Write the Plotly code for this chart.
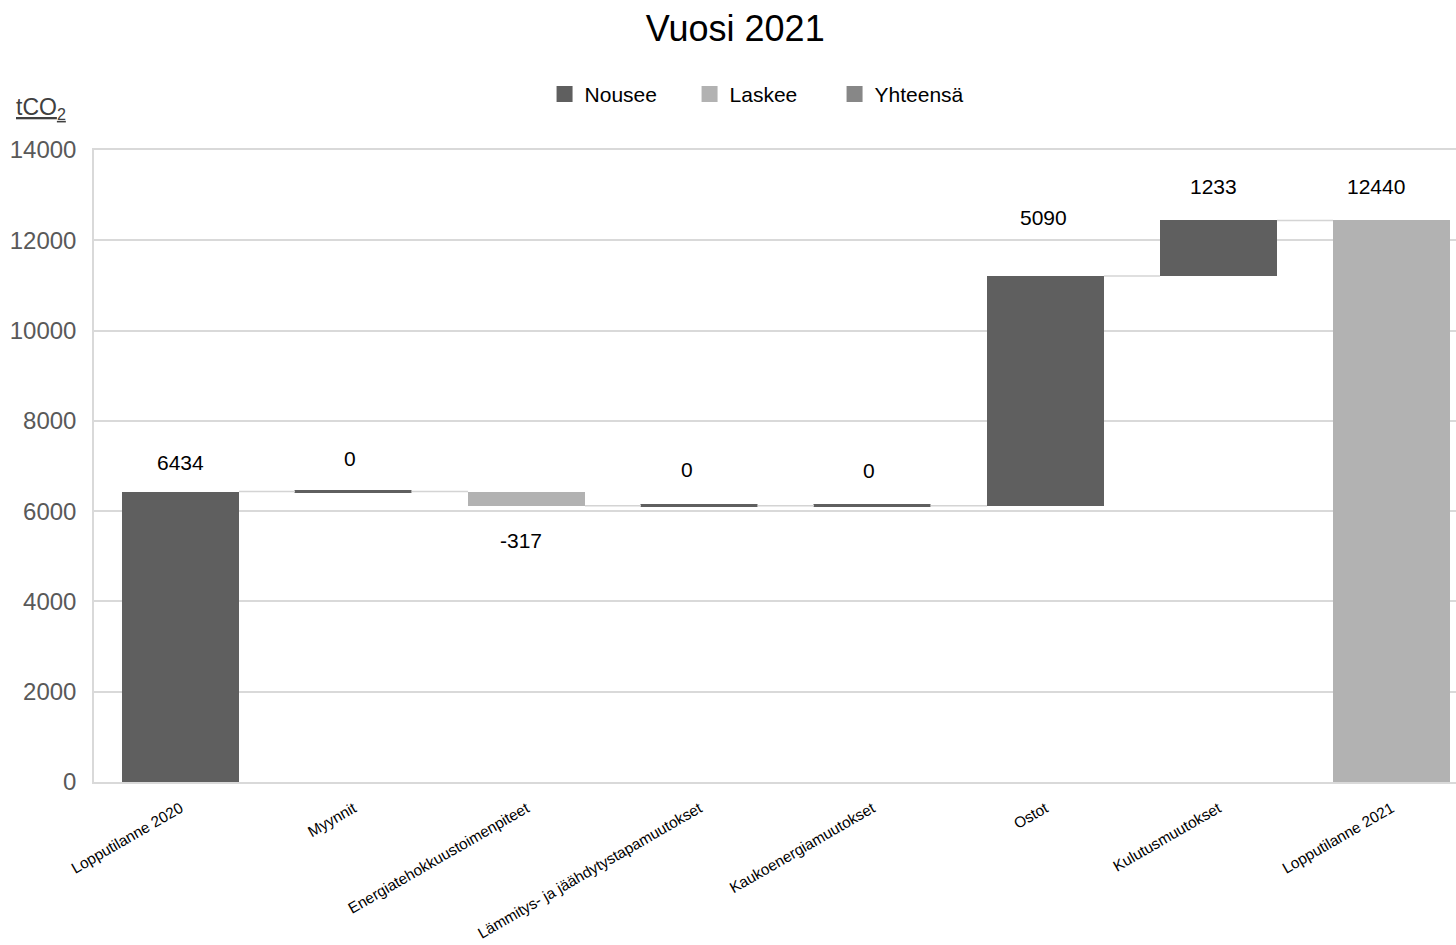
import plotly.graph_objects as go

categories = ["Lopputilanne 2020", "Myynnit", "Energiatehokkuustoimenpiteet",
              "Lämmitys- ja jäähdytystapamuutokset", "Kaukoenergiamuutokset",
              "Ostot", "Kulutusmuutokset", "Lopputilanne 2021"]
changes = [6434, 0, -317, 0, 0, 5090, 1233, 12440]
is_total = [False, False, False, False, False, False, False, True]
series_names = ["Nousee", "Laskee", "Yhteensä"]
y_ticks = [0, 2000, 4000, 6000, 8000, 10000, 12000, 14000]
y_tick_labels = ["0", "2000", "4000", "6000", "8000", "10000", "12000", "14000"]

# styles
C_UP = "#5f5f5f"
C_DOWN = "#b2b2b2"
C_TOTAL = "#878787"
FONT = "Liberation Sans, Arial, sans-serif"
BAR_W = 0.676
label_offsets = [29, 33, 35, 36, 35, 59, 34, 34]
label_xshifts = [0, -3, -5, -12, -3, -2, -5, -15]

# compute bases and levels
bases, heights, colors, tops, bottoms = [], [], [], [], []
level = 0
for v, tot in zip(changes, is_total):
    if tot:
        b, h = 0, v
        level = v
    else:
        b, h = level, v
        level = level + v
    bases.append(b)
    heights.append(h)
    colors.append(C_DOWN if (tot or v < 0) else C_UP)
    tops.append(max(b, b + h))
    bottoms.append(min(b, b + h))

x_idx = list(range(len(categories)))
line_w = [3 if v == 0 else 0 for v in changes]

fig = go.Figure()

# connectors
cx, cy = [], []
end_levels = []
lv = 0
for v, tot in zip(changes, is_total):
    lv = v if tot else lv + v
    end_levels.append(lv)
for i in range(len(categories) - 1):
    cx += [i + BAR_W / 2, i + 1 - BAR_W / 2, None]
    cy += [end_levels[i], end_levels[i], None]
fig.add_trace(go.Scatter(x=cx, y=cy, mode="lines", line=dict(color="#d4d4d4", width=1.5),
                         showlegend=False, hoverinfo="skip"))

fig.add_trace(go.Bar(
    x=x_idx, y=heights, base=bases, width=BAR_W,
    marker=dict(color=colors, line=dict(color=colors, width=line_w)),
    showlegend=False, hoverinfo="skip"))

# legend dummies
for name, col in zip(series_names, [C_UP, C_DOWN, C_TOTAL]):
    fig.add_trace(go.Scatter(x=[None], y=[None], mode="markers", name=name,
                             marker=dict(symbol="square", size=20, color=col)))

# data labels
for i, v in enumerate(changes):
    if v < 0:
        fig.add_annotation(x=i, y=bottoms[i], text=str(v), showarrow=False,
                           yshift=-label_offsets[i], xshift=label_xshifts[i], yanchor="middle",
                           font=dict(size=21, color="#000000", family=FONT))
    else:
        fig.add_annotation(x=i, y=tops[i], text=str(v), showarrow=False,
                           yshift=label_offsets[i], xshift=label_xshifts[i], yanchor="middle",
                           font=dict(size=21, color="#000000", family=FONT))

# axis title
fig.add_annotation(xref="paper", yref="paper", x=-0.0588, y=1.066, xanchor="left", yanchor="middle",
                   text="<u>tCO<sub>2</sub></u>", showarrow=False,
                   font=dict(size=23, color="#404040", family=FONT))

fig.update_layout(
    width=1456, height=945,
    margin=dict(l=94, r=0, t=150, b=163),
    paper_bgcolor="white", plot_bgcolor="white",
    title=dict(text="Vuosi 2021", x=0.505, xanchor="center", y=0.97, yanchor="middle",
               font=dict(size=36, color="#000000", family=FONT)),
    legend=dict(orientation="h", x=0.4905, xanchor="center", y=1.088, yanchor="middle",
                font=dict(size=21, color="#000000", family=FONT), itemwidth=30,
                entrywidth=100, entrywidthmode="pixels",
                traceorder="normal"),
    font=dict(family=FONT),
    bargap=0,
    xaxis=dict(range=[-0.5, 7.373], tickvals=x_idx, ticktext=categories, tickangle=-30,
               tickfont=dict(size=15.3, color="#000000", family=FONT), automargin=False,
               showgrid=False, zeroline=False, showline=True, linecolor="#d9d9d9", linewidth=1.5,
               mirror=True, ticks="", ticklabelstandoff=10),
    yaxis=dict(range=[0, 14000], tickvals=y_ticks, ticktext=y_tick_labels, automargin=False,
               showgrid=True, gridcolor="#d9d9d9", gridwidth=1.5,
               tickfont=dict(size=24, color="#595959", family=FONT), zeroline=False,
               showline=True, linecolor="#d9d9d9", linewidth=1.5, mirror=True,
               ticklabelstandoff=11),
)

fig.write_html("out.html")
